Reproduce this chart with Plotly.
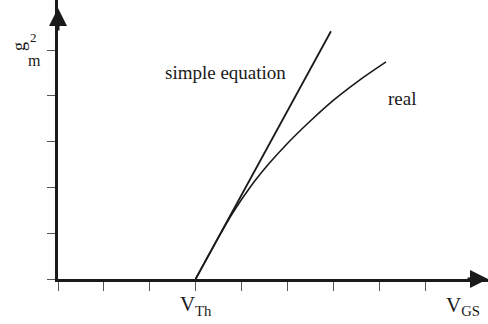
import plotly.graph_objects as go

# Axis layout in "gate-voltage units": one tick per unit, threshold at tick 3
x_ticks = [0, 1, 2, 3, 4, 5, 6, 7, 8]
x_tick_text = ["", "", "", "V<sub>Th</sub>", "", "", "", "", ""]
y_ticks = [0, 1, 2, 3, 4, 5]

# Ideal square-law characteristic: g_m^2 grows linearly above threshold
simple_v = [3.0, 5.95]
simple_g2 = [0.0, 5.41]

# Measured behaviour: follows the ideal line at first, then bends over
real_v = [3.0, 3.4, 3.8, 4.2, 4.6, 5.0, 5.5, 6.0, 6.5, 7.15]
real_g2 = [0.0, 0.73, 1.43, 2.02, 2.52, 2.96, 3.45, 3.9, 4.29, 4.74]

W, H = 488, 324
ML, MB = 58, 45
x_max = 9.373
y_max = 6.092

serif = "Liberation Serif"
ink = "#1a1a1a"


def px_x(p):
    return (p - ML) / (W - ML)


def px_y(p):
    return (H - MB - p) / (H - MB)


def label(x, y, text, size, angle=0):
    fig.add_annotation(xref="paper", yref="paper", x=px_x(x), y=px_y(y),
                       text=text, textangle=angle, showarrow=False,
                       xanchor="center", yanchor="middle",
                       font=dict(family=serif, size=size, color=ink))


fig = go.Figure()
fig.add_trace(go.Scatter(x=simple_v, y=simple_g2, mode="lines",
                         line=dict(color=ink, width=1.8), hoverinfo="skip"))
fig.add_trace(go.Scatter(x=real_v, y=real_g2, mode="lines",
                         line=dict(color=ink, width=1.6, shape="spline"),
                         hoverinfo="skip"))

# Curve labels
label(225, 72, "simple equation", 19)
label(402, 98, "real", 19)

# Arrowheads on the axes
fig.add_annotation(x=x_max, y=0, ax=-22, ay=0, xref="x", yref="y",
                   showarrow=True, arrowhead=2, arrowsize=1.2, arrowwidth=3,
                   arrowcolor=ink, text="")
fig.add_annotation(x=0, y=(279 - 8) / 45.8, ax=0, ay=24, xref="x", yref="y",
                   showarrow=True, arrowhead=2, arrowsize=1.2, arrowwidth=3,
                   arrowcolor=ink, text="")

# Axis titles
label(463, 306, "V<sub>GS</sub>", 21)
label(19, 47, "g", 18, angle=-90)
label(33, 37, "2", 13)
label(34, 61, "m", 16)

fig.update_layout(
    width=W, height=H,
    margin=dict(l=ML, r=0, t=0, b=MB),
    paper_bgcolor="white", plot_bgcolor="white",
    showlegend=False,
    xaxis=dict(range=[0, x_max], tickvals=x_ticks, ticktext=x_tick_text,
               ticks="outside", ticklen=9, tickwidth=1, tickcolor="#555",
               ticklabelstandoff=-5,
               showline=True, linewidth=3, linecolor=ink, showgrid=False,
               zeroline=False, tickfont=dict(family=serif, size=21, color=ink),
               fixedrange=True),
    yaxis=dict(range=[0, y_max], tickvals=y_ticks, showticklabels=False,
               ticks="outside", ticklen=8, tickwidth=1, tickcolor="#555",
               showline=True, linewidth=3, linecolor=ink, showgrid=False,
               zeroline=False, fixedrange=True),
)

fig.write_html("out.html")
